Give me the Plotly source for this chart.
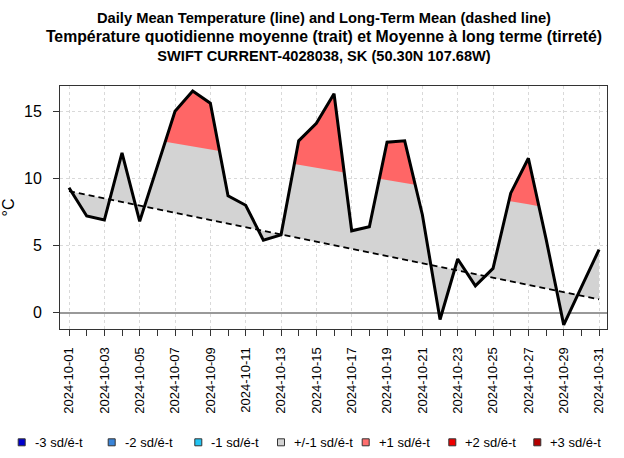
import numpy as np
import pandas as pd
import plotly.graph_objects as go

# ---------------- data ----------------
dates = [d.strftime("%Y-%m-%d") for d in pd.date_range("2024-10-01", "2024-10-31", freq="D")]

daily_mean = [9.3, 7.2, 6.9, 11.9, 6.8, 10.9, 15.0, 16.5, 15.6, 8.7,
              8.0, 5.4, 5.8, 12.8, 14.1, 16.3, 6.1, 6.4, 12.7, 12.8,
              7.3, -0.5, 4.0, 2.0, 3.3, 8.9, 11.5, 5.5, -0.9, 1.9, 4.7]

longterm_mean = [9.05, 8.78, 8.51, 8.25, 7.98, 7.71, 7.44, 7.17, 6.90, 6.64,
                 6.37, 6.10, 5.83, 5.56, 5.29, 5.03, 4.76, 4.49, 4.22, 3.95,
                 3.68, 3.42, 3.15, 2.88, 2.61, 2.34, 2.07, 1.81, 1.54, 1.27, 1.00]

plus_1sd = [13.97, 13.74, 13.52, 13.29, 13.06, 12.84, 12.61, 12.38, 12.15, 11.93,
            11.70, 11.47, 11.25, 11.02, 10.79, 10.57, 10.34, 10.11, 9.88, 9.66,
            9.43, 9.20, 8.98, 8.75, 8.52, 8.30, 8.07, 7.84, 7.61, 7.39, 7.16]

legend_labels = ["-3 sd/é-t", "-2 sd/é-t", "-1 sd/é-t", "+/-1 sd/é-t",
                 "+1 sd/é-t", "+2 sd/é-t", "+3 sd/é-t"]
legend_colors = ["#0000CD", "#3A84D8", "#22C4F2", "#D3D3D3",
                 "#FF6E6E", "#EE0000", "#B50000"]

title_lines = ["Daily Mean Temperature (line) and Long-Term Mean (dashed line)",
               "Température quotidienne moyenne (trait) et Moyenne à long terme (tirreté)",
               "SWIFT CURRENT-4028038, SK (50.30N 107.68W)"]

# ---------------- helpers ----------------
base = pd.Timestamp(dates[0])
def to_date(v):
    return [(base + pd.to_timedelta(float(t), unit="D")).strftime("%Y-%m-%d %H:%M:%S") for t in v]

def polygons_above(a, b):
    """Regions where series a lies above series b (with crossing points inserted)."""
    n = len(a)
    pts = []
    for i in range(n):
        pts.append((float(i), a[i], b[i]))
        if i < n - 1:
            d0 = a[i] - b[i]
            d1 = a[i + 1] - b[i + 1]
            if d0 * d1 < 0:
                t = d0 / (d0 - d1)
                xv = i + t
                yv = a[i] + t * (a[i + 1] - a[i])
                pts.append((xv, yv, yv))
    polys = []
    run = []
    for p in pts:
        if p[1] - p[2] >= -1e-9:
            run.append(p)
        else:
            if len(run) > 1 and max(q[1] - q[2] for q in run) > 1e-9:
                polys.append(run)
            run = []
    if len(run) > 1 and max(q[1] - q[2] for q in run) > 1e-9:
        polys.append(run)
    out = []
    for r in polys:
        xs = [q[0] for q in r] + [q[0] for q in reversed(r)]
        ys = [q[1] for q in r] + [q[2] for q in reversed(r)]
        out.append((xs, ys))
    return out

# ---------------- figure ----------------
fig = go.Figure()

# grey area between daily mean and long-term mean
fig.add_trace(go.Scatter(x=dates, y=longterm_mean, mode="lines",
                         line=dict(width=0), hoverinfo="skip", showlegend=False))
fig.add_trace(go.Scatter(x=dates, y=daily_mean, mode="lines", fill="tonexty",
                         fillcolor="#D3D3D3", line=dict(width=0),
                         hoverinfo="skip", showlegend=False))

# red area above +1 sd
for xs, ys in polygons_above(daily_mean, plus_1sd):
    fig.add_trace(go.Scatter(x=to_date(xs), y=ys, mode="lines", fill="toself",
                             fillcolor="#FF6666", line=dict(width=0),
                             hoverinfo="skip", showlegend=False))

# long-term mean (dashed)
fig.add_trace(go.Scatter(x=dates, y=longterm_mean, mode="lines",
                         line=dict(color="black", width=1.8, dash="6px,4px"),
                         showlegend=False))
# daily mean
fig.add_trace(go.Scatter(x=dates, y=daily_mean, mode="lines",
                         line=dict(color="black", width=3), showlegend=False))

W, H = 624, 458
ml, mr, mt, mb = 60, 17, 86, 129
pw = W - ml - mr
ph = H - mt - mb

x_range = [(base + pd.Timedelta(days=-0.51)).strftime("%Y-%m-%d %H:%M:%S"),
           (base + pd.Timedelta(days=30.45)).strftime("%Y-%m-%d %H:%M:%S")]

title_sizes = [14.7, 15.8, 14.6]
title_text = "<br>".join(f'<span style="font-size:{s}px"><b>{t}</b></span>'
                         for t, s in zip(title_lines, title_sizes))

fig.update_layout(
    width=W, height=H,
    margin=dict(l=ml, r=mr, t=mt, b=mb, autoexpand=False),
    paper_bgcolor="white", plot_bgcolor="white",
    font=dict(family="Liberation Sans, Arial, sans-serif", color="black"),
    title=dict(text=title_text,
               x=324 / W, xref="container", xanchor="center",
               y=1 - 23 / H, yref="container", yanchor="top",
               font=dict(size=14.5, family="Liberation Sans, Arial, sans-serif")),
    showlegend=False,
    xaxis=dict(type="date", range=x_range, tickmode="linear",
               tick0=dates[0], dtick=2 * 86400000, tickformat="%Y-%m-%d",
               tickangle=-90, tickfont=dict(size=13),
               ticks="outside", ticklen=6, tickcolor="#333", tickwidth=1,
               ticklabelstandoff=6,
               showgrid=True, gridcolor="#D9D9D9", griddash="dot", gridwidth=1,
               minor=dict(tick0=dates[0], dtick=86400000, ticks="outside",
                          ticklen=6, tickcolor="#333", showgrid=False),
               showline=True, mirror=True, linecolor="#333", linewidth=1,
               zeroline=False, automargin=False),
    yaxis=dict(range=[-1.21, 16.88], tickmode="array", tickvals=[0, 5, 10, 15],
               ticktext=["0", "5", "10", "15"], tickfont=dict(size=16),
               ticks="outside", ticklen=6, tickcolor="#333", ticklabelstandoff=8,
               showgrid=True, gridcolor="#D9D9D9", griddash="dot", gridwidth=1,
               zeroline=True, zerolinecolor="#999999", zerolinewidth=1.5,
               showline=True, mirror=True, linecolor="#333", linewidth=1,
               title=dict(text="°C", font=dict(size=16), standoff=8),
               automargin=False),
)

# legend (bottom, horizontal, drawn as in the original)
sq_centers = [21.7, 111.7, 198.3, 281.0, 365.7, 452.3, 537.3]
leg_y = 442.3
for cx, lab, col in zip(sq_centers, legend_labels, legend_colors):
    px = (cx - ml) / pw
    py = (H - mb - leg_y) / ph
    fig.add_shape(type="rect", xref="paper", yref="paper",
                  xsizemode="pixel", ysizemode="pixel",
                  xanchor=px, yanchor=py, x0=-3.5, x1=3.5, y0=-3.5, y1=3.5,
                  fillcolor=col, line=dict(color="#333", width=1))
    fig.add_annotation(x=(cx + 11 - ml) / pw, y=py, xref="paper", yref="paper",
                       text=lab, showarrow=False, xanchor="left", yanchor="middle",
                       font=dict(size=13))

fig.write_html("out.html", config={"displayModeBar": False},
               post_script="document.body.style.margin='0';document.body.style.padding='0';")
